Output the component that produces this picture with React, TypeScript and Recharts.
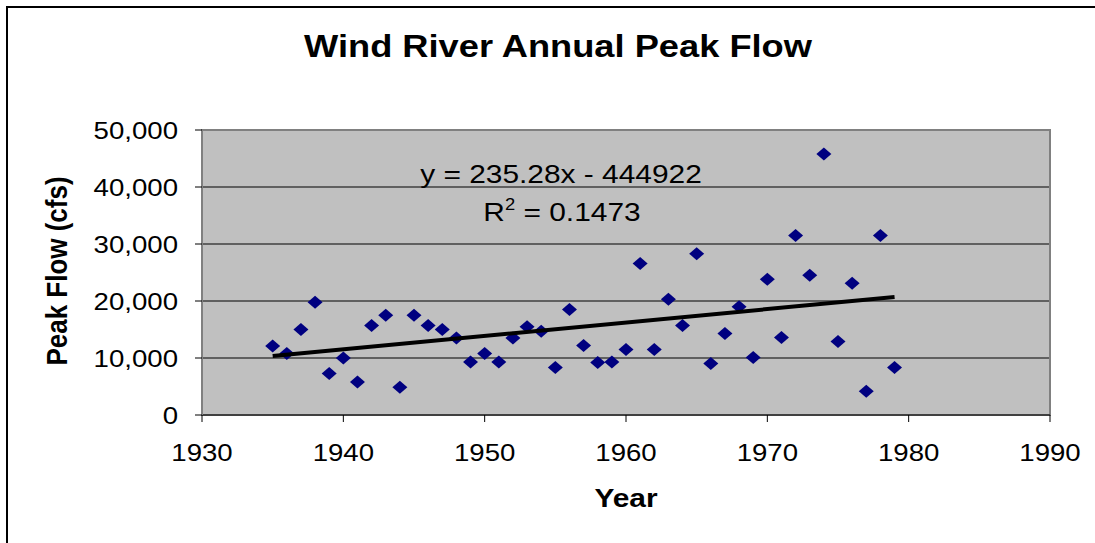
import { CartesianGrid, ReferenceArea, Scatter, ScatterChart, XAxis, YAxis } from "recharts";

const FONT = "'Liberation Sans', Arial, Helvetica, sans-serif";
const STRETCH = 1.15;

const YEARS = [
  1935, 1936, 1937, 1938, 1939, 1940, 1941, 1942, 1943, 1944, 1945, 1946, 1947, 1948, 1949,
  1950, 1951, 1952, 1953, 1954, 1955, 1956, 1957, 1958, 1959, 1960, 1961, 1962, 1963, 1964,
  1965, 1966, 1967, 1968, 1969, 1970, 1971, 1972, 1973, 1974, 1975, 1976, 1977, 1978, 1979,
];
const PEAK_FLOW = [
  12100, 10800, 15000, 19800, 7300, 10000, 5800, 15700, 17500, 4850, 17500, 15700, 15000, 13500, 9300,
  10800, 9300, 13500, 15500, 14700, 8350, 18500, 12200, 9200, 9300, 11500, 26600, 11500, 20300, 15700,
  28300, 9050, 14300, 19000, 10100, 23800, 13600, 31500, 24500, 45800, 12900, 23100, 4150, 31500, 8350,
];
// linear trend endpoints (from the fitted line shown on the chart)
const TREND_YEARS = [1935, 1979];
const TREND_FLOW = [10345, 20697];

const X_TICKS = [1930, 1940, 1950, 1960, 1970, 1980, 1990];
const Y_TICKS = [0, 10000, 20000, 30000, 40000, 50000];

const points = YEARS.map((year, i) => ({ year, flow: PEAK_FLOW[i] }));
const trend = TREND_YEARS.map((year, i) => ({ year, flow: TREND_FLOW[i] }));

function Diamond(props: any) {
  const { cx, cy } = props;
  if (cx == null || cy == null) return <g />;
  return (
    <polygon
      points={`${cx - 7.5},${cy} ${cx},${cy - 6.5} ${cx + 7.5},${cy} ${cx},${cy + 6.5}`}
      fill="#000080"
    />
  );
}

function XTick(props: any) {
  const { x, y, payload } = props;
  return (
    <g transform={`translate(${x},${y}) scale(${STRETCH},1)`}>
      <text x={0} y={0} dy="0.71em" textAnchor="middle" fontSize={24} fontFamily={FONT} fill="#000">
        {payload.value}
      </text>
    </g>
  );
}

function YTick(props: any) {
  const { x, y, payload } = props;
  return (
    <g transform={`translate(${x},${y}) scale(${STRETCH},1)`}>
      <text x={0} y={0} dy="0.355em" textAnchor="end" fontSize={24} fontFamily={FONT} fill="#000">
        {payload.value.toLocaleString("en-US")}
      </text>
    </g>
  );
}

export default function App() {
  return (
    <div style={{ position: "absolute", left: 0, top: 0, width: 1095, height: 543, overflow: "hidden", background: "#fff" }}>
      <div
        style={{
          position: "absolute",
          left: 6,
          top: 6,
          width: 1200,
          height: 700,
          border: "2px solid #000",
          boxSizing: "border-box",
        }}
      />
      <ScatterChart width={1095} height={543} margin={{ top: 130, right: 45, bottom: 68, left: 0 }}>
        <CartesianGrid fill="#C0C0C0" fillOpacity={1} stroke="#000" vertical={false} />
        <XAxis
          type="number"
          dataKey="year"
          domain={[1930, 1990]}
          ticks={X_TICKS}
          height={60}
          tickSize={7}
          tickMargin={22}
          axisLine={{ stroke: "#000" }}
          tickLine={{ stroke: "#000" }}
          tick={<XTick />}
        />
        <YAxis
          type="number"
          dataKey="flow"
          domain={[0, 50000]}
          ticks={Y_TICKS}
          width={202}
          tickSize={7}
          tickMargin={17}
          axisLine={{ stroke: "#808080", strokeWidth: 2 }}
          tickLine={{ stroke: "#000" }}
          tick={<YTick />}
        />
        <ReferenceArea x1={1930} x2={1990} y1={0} y2={50000} fill="none" stroke="#808080" strokeWidth={2} />
        <Scatter data={points} shape={<Diamond />} isAnimationActive={false} />
        <Scatter
          data={trend}
          line={{ stroke: "#000", strokeWidth: 4 }}
          shape={() => <g />}
          isAnimationActive={false}
        />
      </ScatterChart>
      <svg
        width={1095}
        height={543}
        style={{ position: "absolute", left: 0, top: 0, pointerEvents: "none" }}
        fontFamily={FONT}
      >
        <g transform={`translate(558,57) scale(1.17,1)`}>
          <text textAnchor="middle" fontSize={31} fontWeight="bold" fill="#000">
            Wind River Annual Peak Flow
          </text>
        </g>
        <g transform={`translate(67,271) scale(${STRETCH},1) rotate(-90)`}>
          <text textAnchor="middle" fontSize={26} fontWeight="bold" fill="#000">
            Peak Flow (cfs)
          </text>
        </g>
        <g transform={`translate(626,507) scale(${STRETCH},1)`}>
          <text textAnchor="middle" fontSize={26} fontWeight="bold" fill="#000">
            Year
          </text>
        </g>
        <g transform={`translate(561,183) scale(${STRETCH},1)`}>
          <text textAnchor="middle" fontSize={26} fill="#000">
            y = 235.28x - 444922
          </text>
        </g>
        <g transform={`translate(562,221) scale(${STRETCH},1)`}>
          <text textAnchor="middle" fontSize={26} fill="#000">
            R<tspan fontSize={16} dy={-11}>2</tspan>
            <tspan dy={11}> = 0.1473</tspan>
          </text>
        </g>
      </svg>
    </div>
  );
}
